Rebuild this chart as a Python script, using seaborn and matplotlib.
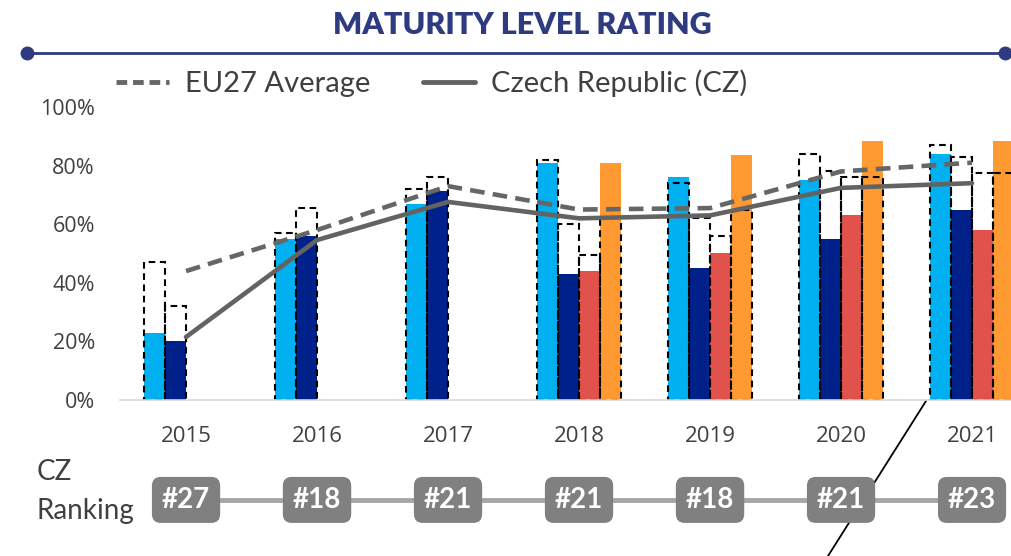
import numpy as np
import pandas as pd
import seaborn as sns
import matplotlib.pyplot as plt
from matplotlib.lines import Line2D

nan = np.nan

years = ['2015', '2016', '2017', '2018', '2019', '2020', '2021']
dims = ['Policy', 'Portal', 'Impact', 'Quality']

# CZ scores per dimension (filled bars)
cz_policy = [0.23, 0.55, 0.67, 0.81, 0.76, 0.75, 0.84]
cz_portal = [0.20, 0.56, 0.715, 0.43, 0.45, 0.55, 0.65]
cz_impact = [nan, nan, nan, 0.44, 0.50, 0.63, 0.58]
cz_quality = [nan, nan, nan, 0.81, 0.835, 0.885, 0.885]

# EU27 scores per dimension (dashed boxes)
eu_policy = [0.47, 0.57, 0.72, 0.82, 0.74, 0.84, 0.87]
eu_portal = [0.32, 0.655, 0.76, 0.60, 0.62, 0.78, 0.83]
eu_impact = [nan, nan, nan, 0.495, 0.56, 0.76, 0.775]
eu_quality = [nan, nan, nan, 0.62, 0.65, 0.76, 0.775]

# overall averages (lines)
eu_avg = [0.44, 0.58, 0.73, 0.65, 0.655, 0.78, 0.81]
cz_avg = [0.215, 0.546, 0.676, 0.62, 0.63, 0.724, 0.74]

ranking = ['#27', '#18', '#21', '#21', '#18', '#21', '#23']

colors = {'Policy': '#00B0F0', 'Portal': '#00208A', 'Impact': '#E0524B', 'Quality': '#FF9A33'}


def long_df(series):
    rows = []
    for d, vals in zip(dims, series):
        for y, v in zip(years, vals):
            rows.append({'year': y, 'dim': d, 'value': v})
    return pd.DataFrame(rows)


cz_df = long_df([cz_policy, cz_portal, cz_impact, cz_quality])
eu_df = long_df([eu_policy, eu_portal, eu_impact, eu_quality])

sns.set_style('white')
plt.rcParams['font.family'] = ['Open Sans', 'DejaVu Sans']

W, H = 1012, 556
fig = plt.figure(figsize=(W / 100, H / 100), dpi=100)
ax = fig.add_axes([120 / W, 156 / H, 892 / W, 293 / H])

sns.barplot(data=cz_df, x='year', y='value', hue='dim', order=years, hue_order=dims,
            palette=colors, saturation=1, width=0.64, errorbar=None, linewidth=0,
            legend=False, ax=ax)

n0 = len(ax.patches)
sns.barplot(data=eu_df, x='year', y='value', hue='dim', order=years, hue_order=dims,
            palette=colors, width=0.64, errorbar=None, legend=False, ax=ax)
for p in ax.patches[n0:]:
    p.set_facecolor('none')
    p.set_edgecolor('black')
    p.set_linestyle((0, (3.2, 2.2)))
    p.set_linewidth(1.5)
    p.set_zorder(2.5)

xs = np.arange(len(years))
sns.lineplot(x=xs, y=eu_avg, color='#666666', linewidth=3.3, linestyle=(0, (3.2, 1.8)),
             ax=ax, zorder=4)
sns.lineplot(x=xs, y=cz_avg, color='#636363', linewidth=3.3, ax=ax, zorder=4)

ax.set_xlim(-0.504, 6.305)
ax.set_ylim(0, 1)
ax.set_yticks([0, 0.2, 0.4, 0.6, 0.8, 1.0])
ax.set_yticklabels(['0%', '20%', '40%', '60%', '80%', '100%'])
ax.set_xlabel('')
ax.set_ylabel('')
ax.tick_params(axis='y', length=0, pad=18, labelsize=15.5, labelcolor='#404040')
ax.tick_params(axis='x', length=0, pad=19, labelsize=16, labelcolor='#404040')
for s in ['top', 'right', 'left']:
    ax.spines[s].set_visible(False)
ax.spines['bottom'].set_color('#D9D9D9')
ax.spines['bottom'].set_linewidth(1.2)

# ranking row
tr = ax.get_xaxis_transform()
ax.plot(xs, [-0.341] * len(xs), transform=tr, clip_on=False, color='#A6A6A6', lw=3.5, zorder=5)
for x, r in zip(xs, ranking):
    ax.text(x, -0.341, r, transform=tr, ha='center', va='center', color='white',
            fontsize=20, fontweight='bold', family=['Lato', 'DejaVu Sans'], zorder=6,
            bbox=dict(boxstyle='round,pad=0.36,rounding_size=0.32', fc='#808080', ec='none'))

fig.text(37 / W, 1 - 472 / H, 'CZ', fontsize=20, color='#404040', va='center',
         family=['Lato', 'DejaVu Sans'])
fig.text(37 / W, 1 - 511 / H, 'Ranking', fontsize=20, color='#404040', va='center',
         family=['Lato', 'DejaVu Sans'])

# title + rule
fig.text(522 / W, 1 - 25 / H, 'MATURITY LEVEL RATING', ha='center', va='center',
         fontsize=22, fontweight='heavy', color='#2E3B80', family=['Lato', 'DejaVu Sans'])
fig.add_artist(Line2D([27 / W, 1005 / W], [1 - 53 / H] * 2, color='#2E3B80', lw=2,
                      marker='o', markersize=9))

# diagonal pointer line
fig.add_artist(Line2D([926 / W, 828 / W], [1 - 401 / H, 0], color='black', lw=1.3, zorder=-1))

handles = [Line2D([], [], color='#666666', lw=3.5, linestyle=(0, (2.2, 1.2))),
           Line2D([], [], color='#636363', lw=3.5)]
leg = fig.legend(handles, ['EU27 Average', 'Czech Republic (CZ)'], loc='center left',
                 bbox_to_anchor=(90 / W, 1 - 83 / H), ncol=2, frameon=False,
                 handlelength=1.8, handletextpad=0.55, columnspacing=1.8,
                 prop={'family': ['Lato', 'DejaVu Sans'], 'size': 21})
for t in leg.get_texts():
    t.set_color('#404040')

fig.savefig('out.png', dpi=100)
